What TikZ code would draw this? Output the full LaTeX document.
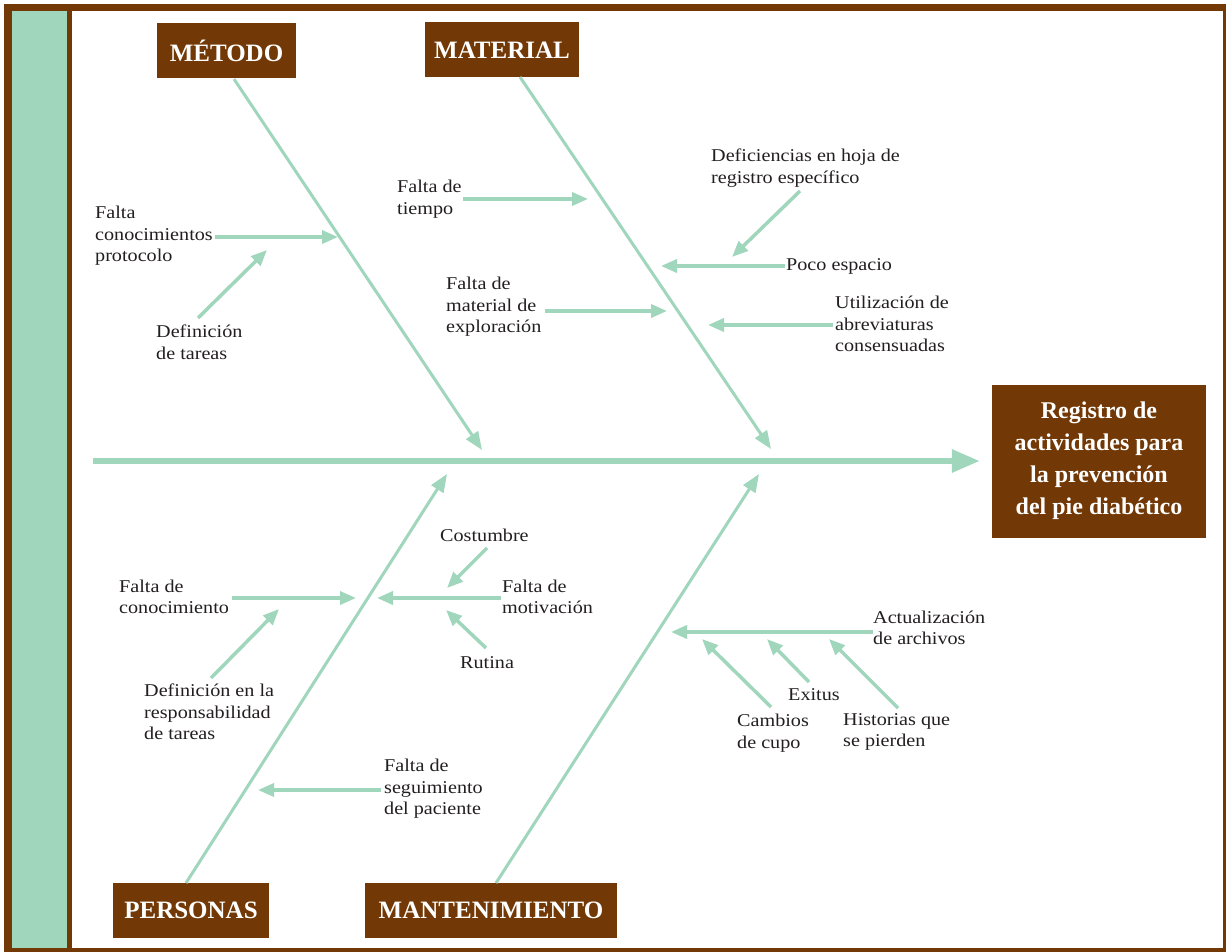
\documentclass[tikz,border=0pt]{standalone}
\usepackage{fontspec}
\setmainfont{Liberation Serif}[FakeStretch=1.12]
\newfontfamily\hfont{Liberation Serif}
\usetikzlibrary{arrows.meta}
\definecolor{brn}{RGB}{114,57,7}
\definecolor{grn}{RGB}{160,214,188}
\definecolor{txt}{RGB}{35,31,32}
\begin{document}
\begin{tikzpicture}[x=1pt,y=-1pt,
  hdr/.style={fill=brn,text=white,font=\hfont\bfseries\fontsize{25}{30}\selectfont,inner sep=0pt,minimum height=55pt},
  lbl/.style={anchor=west,align=left,inner sep=0pt,text=txt,font=\fontsize{18}{21.5}\selectfont},
  bone/.style={draw=grn,line width=3pt,-{Triangle[length=18pt,width=14pt]}},
  sub/.style={draw=grn,line width=3.5pt,-{Triangle[length=16pt,width=13pt]}},
  spine/.style={draw=grn,line width=6pt,-{Triangle[length=28pt,width=22pt]}},
]
\useasboundingbox (0,0) rectangle (1226,952);
% frame
\fill[brn] (4,4) rectangle (1232,958);
\fill[white] (12,11) rectangle (1223,948);
\fill[grn] (12,11) rectangle (67,948);
\fill[brn] (67,11) rectangle (72,948);

% headers
\node[hdr,minimum width=139pt] (metodo) at (226.5,51) {MÉTODO};
\node[hdr,minimum width=154pt] (material) at (502,50) {MATERIAL};
\node[hdr,minimum width=156pt] (personas) at (191,910) {PERSONAS};
\node[hdr,minimum width=252pt] (mant) at (491,910) {MANTENIMIENTO};
\node[fill=brn,text=white,font=\hfont\bfseries\fontsize{24}{32}\selectfont,inner sep=0pt,
  minimum width=214pt,minimum height=153pt,align=center] (res) at (1099,461)
  {Registro de\\actividades para\\la prevención\\del pie diabético};

% spine
\coordinate (sp0) at (93,461);
\draw[spine,shorten >=12pt] (sp0) -- (res.west);

% bones
\coordinate (b1s) at (234,79);  \coordinate (b1e) at (482,450);
\coordinate (b2s) at (520,77);  \coordinate (b2e) at (771,449);
\coordinate (b3s) at (186,883); \coordinate (b3e) at (447,474);
\coordinate (b4s) at (496,883); \coordinate (b4e) at (759,474);
\draw[bone] (b1s) -- (b1e);
\draw[bone] (b2s) -- (b2e);
\draw[bone] (b3s) -- (b3e);
\draw[bone] (b4s) -- (b4e);

% labels
\node[lbl] (l1) at (95,236) {Falta\\conocimientos\\protocolo};
\node[lbl] (l2) at (156,342) {Definición\\de tareas};
\node[lbl] (l3) at (397,199) {Falta de\\tiempo};
\node[lbl] (l4) at (711,168) {Deficiencias en hoja de\\registro específico};
\node[lbl] (l5) at (786,266) {Poco espacio};
\node[lbl] (l6) at (446,307) {Falta de\\material de\\exploración};
\node[lbl] (l7) at (835,324) {Utilización de\\abreviaturas\\consensuadas};
\node[lbl] (l8) at (119,597) {Falta de\\conocimiento};
\node[lbl] (l9) at (144,712) {Definición en la\\responsabilidad\\de tareas};
\node[lbl] (l10) at (502,597) {Falta de\\motivación};
\node[lbl] (l11) at (440,535) {Costumbre};
\node[lbl] (l12) at (460,663) {Rutina};
\node[lbl] (l13) at (384,789) {Falta de\\seguimiento\\del paciente};
\node[lbl] (l14) at (873,628) {Actualización\\de archivos};
\node[lbl] (l15) at (737,733) {Cambios\\de cupo};
\node[lbl] (l16) at (788,695) {Exitus};
\node[lbl] (l17) at (843,732) {Historias que\\se pierden};

% sub-arrow coordinates
\coordinate (a1s) at (215,237);  \coordinate (a1e) at (338,237);
\coordinate (a2s) at (198,318);  \coordinate (a2e) at (267,250);
\coordinate (a3s) at (463,199);  \coordinate (a3e) at (588,199);
\coordinate (a4s) at (800,191);  \coordinate (a4e) at (732,257);
\coordinate (a5s) at (785,266);  \coordinate (a5e) at (661,266);
\coordinate (a6s) at (545,311);  \coordinate (a6e) at (667,311);
\coordinate (a7s) at (833,325);  \coordinate (a7e) at (708,325);
\coordinate (a8s) at (232,598);  \coordinate (a8e) at (356,598);
\coordinate (a9s) at (211,678);  \coordinate (a9e) at (279,609);
\coordinate (a10s) at (501,598); \coordinate (a10e) at (377,598);
\coordinate (a11s) at (487,548); \coordinate (a11e) at (447,588);
\coordinate (a12s) at (486,648); \coordinate (a12e) at (446,610);
\coordinate (a13s) at (381,790); \coordinate (a13e) at (258,790);
\coordinate (a14s) at (873,632); \coordinate (a14e) at (671,632);
\coordinate (a15s) at (771,707); \coordinate (a15e) at (702,639);
\coordinate (a16s) at (809,682); \coordinate (a16e) at (767,639);
\coordinate (a17s) at (898,708); \coordinate (a17e) at (829,639);
\foreach \i in {1,...,17} {\draw[sub] (a\i s) -- (a\i e);}
\end{tikzpicture}
\end{document}
